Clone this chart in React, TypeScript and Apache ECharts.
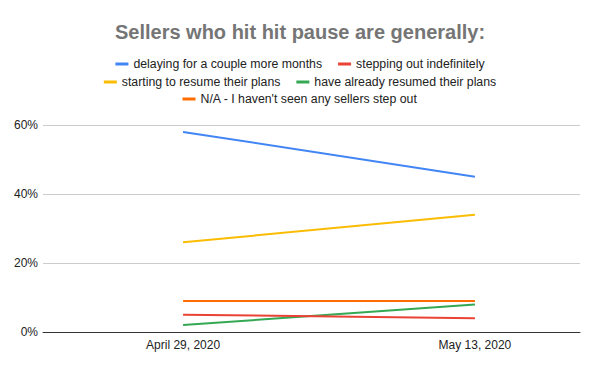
import React, { useEffect, useRef } from "react";
import * as echarts from "echarts";

const categories = ["April 29, 2020", "May 13, 2020"];
const seriesNames = [
  "delaying for a couple more months",
  "stepping out indefinitely",
  "starting to resume their plans",
  "have already resumed their plans",
  "N/A - I haven't seen any sellers step out",
];
const delaying = [58, 45];
const steppingOut = [5, 4];
const starting = [26, 34];
const resumed = [2, 8];
const na = [9, 9];
const colors = ["#4285F4", "#EA4335", "#FBBC04", "#34A853", "#FF6D01"];
const yTicks = [0, 20, 40, 60];

export default function App() {
  const ref = useRef<HTMLDivElement>(null);
  useEffect(() => {
    if (!ref.current) return;
    const chart = echarts.init(ref.current, null, { renderer: "svg" });
    const values = [delaying, steppingOut, starting, resumed, na];
    const font = "Arial, 'Liberation Sans', sans-serif";
    const legendBase = {
      icon: "rect",
      itemWidth: 13,
      itemHeight: 3,
      itemGap: 16,
      textStyle: { fontSize: 12.3, color: "#222", fontFamily: font },
      left: "center",
    };
    chart.setOption({
      animation: false,
      backgroundColor: "#fff",
      title: {
        text: "Sellers who hit hit pause are generally:",
        left: "center",
        top: 17,
        textStyle: { fontSize: 20, fontWeight: "bold", color: "#757575", fontFamily: font },
      },
      legend: [
        { ...legendBase, top: 53, data: [seriesNames[0], seriesNames[1]] },
        { ...legendBase, top: 71, data: [seriesNames[2], seriesNames[3]] },
        { ...legendBase, top: 88, data: [seriesNames[4]] },
      ],
      grid: { left: 43, right: 20, top: 125, bottom: 39, containLabel: false },
      xAxis: {
        type: "value",
        min: -0.48,
        max: 1.36,
        splitLine: { show: false },
        axisLine: { show: true, onZero: false, lineStyle: { color: "#333" } },
        axisTick: { show: false },
        axisLabel: {
          customValues: [0, 1],
          formatter: (v: number) => categories[Math.round(v)] ?? "",
          fontSize: 12,
          color: "#222",
          fontFamily: font,
          margin: 7,
        },
      },
      yAxis: {
        type: "value",
        min: 0,
        max: 60,
        interval: 20,
        axisLine: { show: false },
        axisTick: { show: false },
        splitLine: { lineStyle: { color: "#ccc" } },
        axisLabel: {
          customValues: yTicks,
          formatter: (v: number) => v + "%",
          fontSize: 12,
          color: "#222",
          fontFamily: font,
          margin: 5,
        },
      },
      series: seriesNames.map((name, i) => ({
        name,
        type: "line",
        data: values[i].map((v, j) => [j, v]),
        showSymbol: false,
        symbol: "none",
        lineStyle: { width: 2, color: colors[i] },
        itemStyle: { color: colors[i] },
        z: 10 - i,
      })),
    });
    return () => chart.dispose();
  }, []);
  return <div ref={ref} style={{ width: 600, height: 371, position: "absolute", left: 0, top: 0 }} />;
}
